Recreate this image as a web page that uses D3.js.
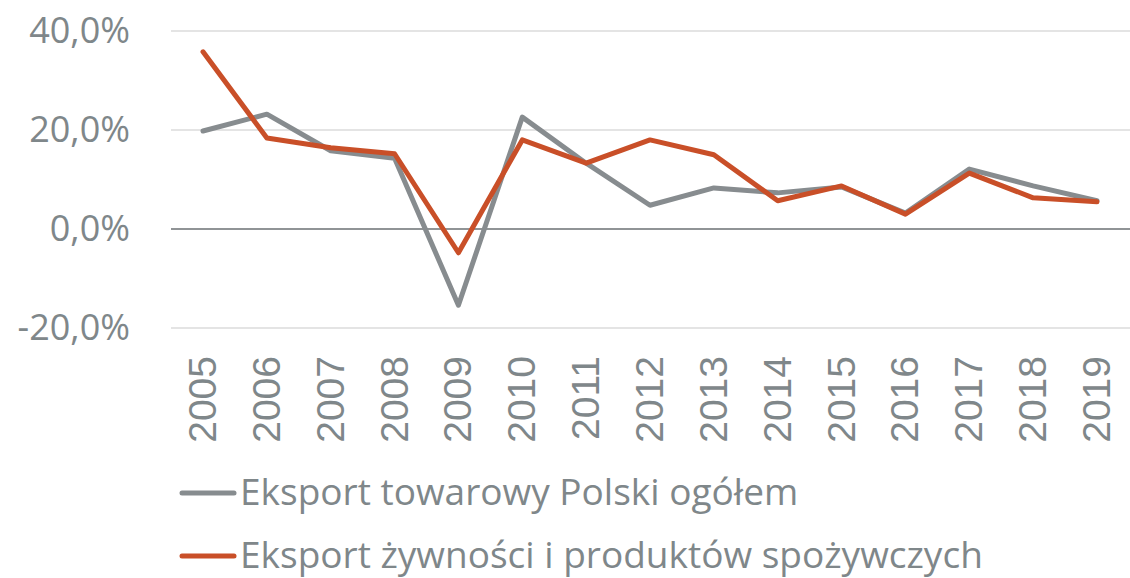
<!DOCTYPE html>
<html>
<head>
<meta charset="utf-8">
<script src="https://cdn.jsdelivr.net/npm/d3@7"></script>
<style>
  html, body { margin: 0; padding: 0; background: #fff; }
  svg { display: block; }
</style>
</head>
<body>
<div id="chart"></div>
<script>
const years = ["2005","2006","2007","2008","2009","2010","2011","2012","2013","2014","2015","2016","2017","2018","2019"];
const eksportOgolem = [19.8, 23.2, 15.8, 14.3, -15.4, 22.6, 13.3, 4.8, 8.3, 7.3, 8.5, 3.2, 12.1, 8.7, 5.7];
const eksportZywnosci = [35.8, 18.4, 16.4, 15.2, -4.8, 18.0, 13.3, 18.0, 15.0, 5.7, 8.7, 3.0, 11.3, 6.3, 5.5];
const yTicks = [-20, 0, 20, 40];
const seriesNames = ["Eksport towarowy Polski ogółem", "Eksport żywności i produktów spożywczych"];

const W = 1130, H = 578;
const textColor = "#7f878a";
const colors = ["#878c8f", "#c94f28"];

const svg = d3.select("#chart").append("svg")
    .attr("width", W)
    .attr("height", H);

const x = d3.scalePoint()
    .domain(years)
    .range([203, 1097]);

const y = d3.scaleLinear()
    .domain([-20, 40])
    .range([328, 31]);

// siatka
svg.append("g")
    .selectAll("line")
    .data(yTicks)
    .join("line")
    .attr("x1", 171).attr("x2", W)
    .attr("y1", d => y(d)).attr("y2", d => y(d))
    .attr("stroke", d => d === 0 ? "#6b7073" : "#e4e4e4")
    .attr("stroke-width", d => d === 0 ? 1.5 : 2);

// etykiety osi Y
svg.append("g")
    .selectAll("text")
    .data(yTicks)
    .join("text")
    .attr("x", 130)
    .attr("y", d => y(d) + 12)
    .attr("text-anchor", "end")
    .attr("fill", textColor)
    .style("font-family", "'Open Sans', sans-serif")
    .style("font-size", "36px")
    .text(d => (d < 0 ? "-" : "") + Math.abs(d).toFixed(1).replace(".", ",") + "%");

// etykiety osi X
svg.append("g")
    .selectAll("text")
    .data(years)
    .join("text")
    .attr("transform", d => `translate(${x(d) + 13},356) rotate(-90)`)
    .attr("text-anchor", "end")
    .attr("fill", textColor)
    .style("font-family", "'Liberation Sans', Arial, sans-serif")
    .style("font-size", "39px")
    .text(d => d);

const line = d3.line()
    .x((d, i) => x(years[i]))
    .y(d => y(d));

[eksportOgolem, eksportZywnosci].forEach((s, k) => {
    svg.append("path")
        .datum(s)
        .attr("d", line)
        .attr("fill", "none")
        .attr("stroke", colors[k])
        .attr("stroke-width", 5)
        .attr("stroke-linejoin", "round")
        .attr("stroke-linecap", "round");
});

// legenda
const legend = svg.append("g");
seriesNames.forEach((name, k) => {
    const ly = 493 + k * 63;
    legend.append("line")
        .attr("x1", 182).attr("x2", 234)
        .attr("y1", ly).attr("y2", ly)
        .attr("stroke", colors[k])
        .attr("stroke-width", 5)
        .attr("stroke-linecap", "round");
    legend.append("text")
        .attr("x", 240)
        .attr("y", ly + 12)
        .attr("fill", textColor)
        .style("font-family", "'Open Sans', sans-serif")
        .style("font-size", "37px")
        .text(name);
});
</script>
</body>
</html>
